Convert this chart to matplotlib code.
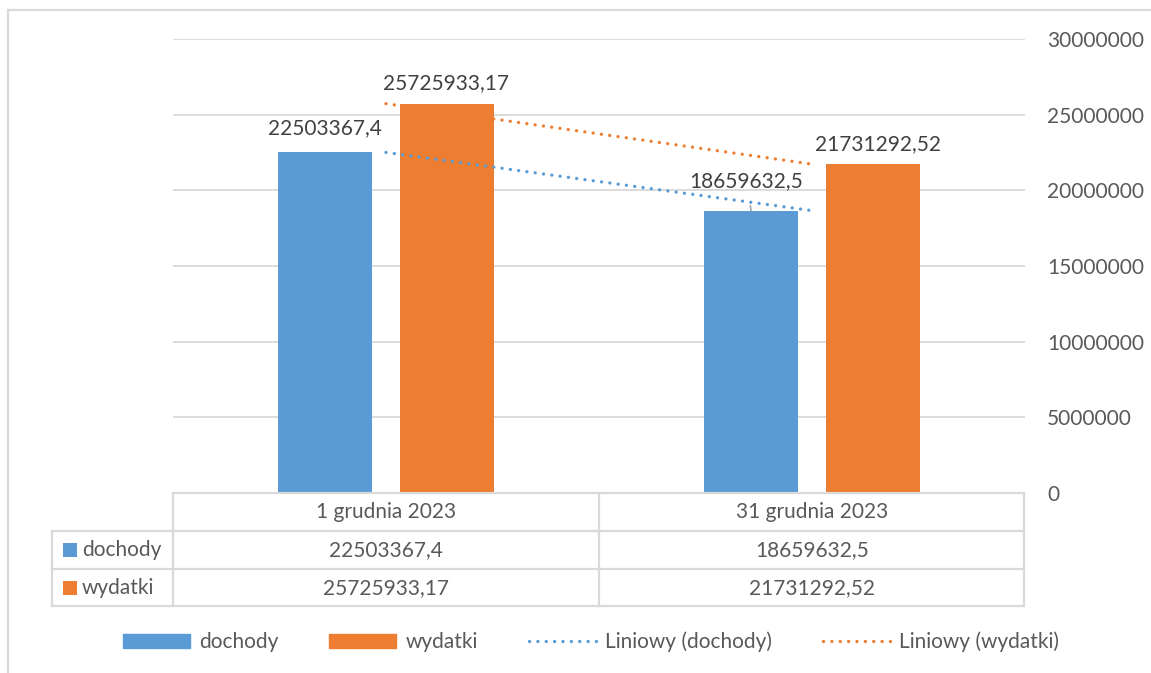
import matplotlib
matplotlib.use('Agg')
import matplotlib.pyplot as plt
from matplotlib.lines import Line2D
from matplotlib.patches import Patch
import numpy as np

plt.rcParams['font.family'] = ['Lato', 'DejaVu Sans']

categories = ['1 grudnia 2023', '31 grudnia 2023']
dochody = [22503367.4, 18659632.5]
wydatki = [25725933.17, 21731292.52]
series_names = ['dochody', 'wydatki']
yticks = [0, 5000000, 10000000, 15000000, 20000000, 25000000, 30000000]

blue = '#5B9BD5'
orange = '#ED7D31'
txt = '#595959'
grid = '#D9D9D9'
fs = 15
dots = (0, (0.01, 2.5))

W, H = 1151, 673


def fmt(v):
    return str(v).replace('.', ',')


fig = plt.figure(figsize=(W / 100, H / 100), dpi=100)

# main plot area in pixel terms: x 173..1025, y 39..493
ax = fig.add_axes([173 / W, (H - 493) / H, (1025 - 173) / W, (493 - 39) / H])
x = np.arange(len(categories))
bw = 0.222
off = 0.143
ax.bar(x - off, dochody, bw, color=blue, zorder=2)
ax.bar(x + off, wydatki, bw, color=orange, zorder=2)

# linear trend lines (two points -> straight line through the values)
for vals, col in [(dochody, blue), (wydatki, orange)]:
    k, b = np.polyfit(x, vals, 1)
    ax.plot(x, k * x + b, color=col, lw=2.4, linestyle=dots,
            dash_capstyle='round', zorder=3)

ax.set_xlim(-0.5, 1.5)
ax.set_ylim(0, 30000000)
ax.set_yticks(yticks)
ax.set_yticklabels([str(t) for t in yticks], fontsize=fs, color=txt)
ax.yaxis.tick_right()
ax.tick_params(axis='y', length=0, pad=16)
ax.set_xticks([])
ax.grid(axis='y', color=grid, lw=1.3, zorder=0)
for s in ax.spines.values():
    s.set_visible(False)

# data labels (offsets in points)
pt = 72 / 100
labels = [
    (x[0] - off, dochody[0], (0, 24)),
    (x[0] + off, wydatki[0], (-1, 21)),
    (x[1] - off, dochody[1], (-5, 30)),
    (x[1] + off, wydatki[1], (5, 20)),
]
for i, (lx, ly, (dx, dy)) in enumerate(labels):
    props = None
    if i == 2:
        props = dict(arrowstyle='-', color='#A6A6A6', lw=1.2, shrinkA=9, shrinkB=0)
    ax.annotate(fmt(ly), (lx, ly), xytext=(dx * pt, dy * pt), textcoords='offset points',
                ha='center', va='center', fontsize=fs, color='#404040',
                arrowprops=props, zorder=4)

# overlay in pixel coordinates for the data table and the frame
ov = fig.add_axes([0, 0, 1, 1])
ov.set_xlim(0, W)
ov.set_ylim(H, 0)
ov.axis('off')
ov.patch.set_alpha(0)

lc = dict(color=grid, lw=1.6)
ov.plot([173, 1024], [493, 493], **lc)
ov.plot([52, 1024], [531, 531], **lc)
ov.plot([52, 1024], [569, 569], **lc)
ov.plot([52, 1024], [606, 606], **lc)
ov.plot([173, 173], [493, 606], **lc)
ov.plot([599, 599], [493, 606], **lc)
ov.plot([1024, 1024], [493, 606], **lc)
ov.plot([52, 52], [531, 606], **lc)

colx = [386, 812]
for cx, cat, d, w in zip(colx, categories, dochody, wydatki):
    ov.text(cx, 512, cat, ha='center', va='center', fontsize=fs, color=txt)
    ov.text(cx, 550, fmt(d), ha='center', va='center', fontsize=fs, color=txt)
    ov.text(cx, 588, fmt(w), ha='center', va='center', fontsize=fs, color=txt)

for ry, name, col in [(550, series_names[0], blue), (588, series_names[1], orange)]:
    ov.add_patch(plt.Rectangle((63, ry - 7), 14, 14, color=col, lw=0))
    ov.text(82, ry, name, ha='left', va='center', fontsize=fs, color=txt)

# outer frame (top and left edges visible)
ov.plot([8.5, W], [9.5, 9.5], color=grid, lw=1.6)
ov.plot([8.5, 8.5], [9.5, H], color=grid, lw=1.6)

handles = [
    Patch(color=blue, label='dochody'),
    Patch(color=orange, label='wydatki'),
    Line2D([], [], color=blue, lw=2.4, linestyle=dots, dash_capstyle='round',
           label='Liniowy (dochody)'),
    Line2D([], [], color=orange, lw=2.4, linestyle=dots, dash_capstyle='round',
           label='Liniowy (wydatki)'),
]
leg = fig.legend(handles=handles, loc='center', bbox_to_anchor=(591 / W, 1 - 642 / H), ncol=4,
                 frameon=False, fontsize=fs, handlelength=3.2, handleheight=0.6,
                 handletextpad=0.45, columnspacing=2.45, labelcolor=txt)

fig.savefig('out.png', dpi=100)
